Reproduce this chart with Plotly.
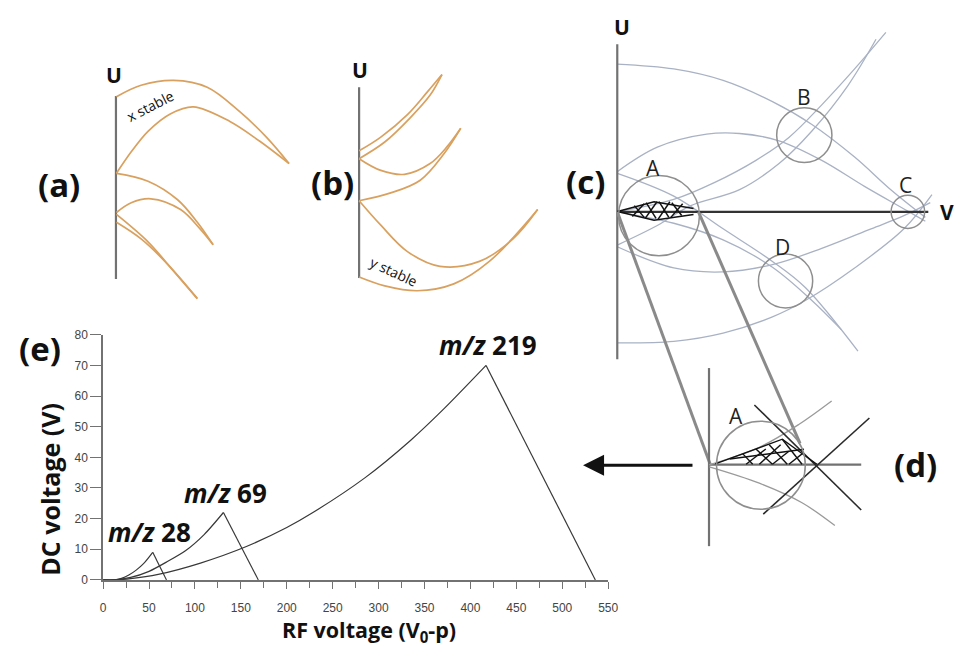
import plotly.graph_objects as go

W, H = 960, 651

# ---------------- panel (e) data ----------------
mz28_rf = [0, 12, 20, 28, 36, 44, 54, 69]
mz28_dc = [0, 0, 0.5, 1.6, 3.2, 5.3, 9.0, 0]
mz69_rf = [0, 12, 30, 50, 70, 90, 110, 131, 169]
mz69_dc = [0, 0, 0.8, 2.8, 6.0, 9.6, 14.8, 22.0, 0]
mz219_rf = [0, 12, 30, 60, 106, 156, 200, 228, 285, 335, 371, 417, 536]
mz219_dc = [0, 0, 0.4, 1.8, 5.5, 10.9, 17.1, 21.9, 33.3, 45.6, 55.8, 70.0, 0]
x_ticks = list(range(0, 551, 50))
x_minor = list(range(25, 551, 50))
y_ticks = list(range(0, 81, 10))
peak_labels = ["<i>m/z</i> 28", "<i>m/z</i> 69", "<i>m/z</i> 219"]
peak_rf = [51, 133, 419]
peak_dc = [9.0, 22.0, 70.0]

# ---------------- schematic panels (drawing frame in page pixels) ----------------
a_axis = [(114.5, 91), (114.5, 278)]
a_curves = [
    [(115, 91.7), (140, 80), (173, 75), (207, 82), (240, 107), (267, 133), (290, 160)],
    [(115, 170), (130, 148), (147, 127), (170, 109), (193, 102), (230, 117), (260, 137), (290, 160)],
    [(115, 170), (147, 178), (177, 197), (197, 220), (213, 243)],
    [(115, 210), (130, 200), (150, 196), (180, 207), (200, 227), (213, 243)],
    [(115, 212), (147, 240), (173, 270), (197, 298)],
    [(115, 220), (140, 237), (167, 263), (197, 298)],
]
b_axis = [(361, 82), (361, 277)]
b_curves = [
    [(361, 147), (383, 133), (410, 110), (430, 87), (445, 69)],
    [(361, 155), (387, 138), (413, 113), (433, 90), (445, 69)],
    [(361, 155), (383, 167), (407, 171), (433, 160), (450, 143), (464, 124)],
    [(361, 198), (393, 190), (423, 177), (447, 150), (464, 124)],
    [(361, 198), (383, 223), (410, 250), (443, 265), (483, 260), (517, 237), (542, 207)],
    [(361, 276), (387, 285), (420, 290), (457, 283), (493, 260), (542, 207)],
]
c_axes = [[(622.7, 38), (622.7, 360)], [(622.7, 209.3), (938, 209.3)]]
c_curves = [
    [(622.7, 58.3), (680, 63.3), (730, 75), (780, 96.7), (820, 120), (863.3, 153.3), (900, 186.7), (935, 215)],
    [(622.7, 168.3), (663.3, 143.3), (713.3, 130), (746.7, 129.3), (786.7, 136.7), (830, 156.7), (873.3, 183.3), (916.7, 208.3), (935, 219)],
    [(622.7, 209.3), (680, 196.7), (720, 180), (763.3, 156.7), (796.7, 133.3), (830, 100), (863.3, 63.3), (895, 26)],
    [(622.7, 243.3), (663.3, 223.3), (696.7, 203.3), (746.7, 186.7), (786.7, 160), (820, 126.7), (856.7, 80), (885, 33)],
    [(622.7, 170), (680, 193.3), (730, 226.7), (780, 260), (813.3, 286.7), (866.7, 351.7)],
    [(622.7, 209.3), (680, 221), (730, 238), (780, 266), (820, 300), (850, 330)],
    [(622.7, 245), (680, 266.7), (730, 270.7), (780, 263.3), (830, 246.7), (880, 226.7), (913.3, 213.3), (940, 200)],
    [(622.7, 343.3), (680, 341.7), (730, 333.3), (780, 316.7), (813.3, 300), (863.3, 266.7), (913.3, 226.7), (941.7, 191.7)],
]
c_hatch = [
    [(623, 209), (660, 199), (700, 206)],
    [(623, 209), (660, 218), (700, 212)],
    [(640, 203), (650, 215)], [(652, 200), (662, 216)], [(665, 199), (675, 215)], [(678, 200), (688, 213)],
    [(638, 214), (650, 201)], [(651, 216), (663, 199)], [(664, 217), (676, 199)], [(677, 215), (689, 201)],
]
projection = [[(622.7, 209.3), (716.7, 466.7)], [(705, 209.3), (808, 446)]]
d_axes = [[(715.7, 369), (715.7, 551)], [(715.7, 467.7), (870, 467.7)]]
d_black = [[(761.7, 406.7), (870, 514)], [(770.7, 518.3), (878.3, 420)]]
d_curves = [
    [(715.7, 468), (766.7, 450), (806.7, 426.7), (840, 402.7)],
    [(716, 470), (766.7, 486.7), (810, 506.7), (843.3, 530)],
]
d_hatch = [
    [(722, 467), (790, 441.7), (825, 467.3)],
    [(750, 456.7), (760, 467.3)], [(763.3, 451.7), (780, 467.3)], [(776.7, 447.3), (795, 467.3)], [(790, 441.7), (810, 467.3)],
    [(753.3, 467.3), (773.3, 451.7)], [(766.7, 467.3), (788.3, 447.3)], [(780, 467.3), (796.7, 454)], [(796.7, 467.3), (810, 456.7)],
    [(736.7, 462), (812, 452)],
]
circle_names = ["A", "B", "C", "D", "A"]
circle_cx = [665, 812.3, 917.3, 793.3, 768.3]
circle_cy = [213.3, 131, 209.3, 280, 468.3]
circle_r = [41, 28, 17, 27.5, 45]
circle_label_xy = [(659, 165), (811.7, 92), (915, 182), (790, 245), (743.3, 418.3)]
panel_labels = ["(a)", "(b)", "(c)", "(d)", "(e)"]
panel_label_xy = [(57, 181), (334, 179), (590, 178), (925, 468), (38, 349)]
arrow_tail = (702, 468.3)
arrow_head = (588, 468.3)

ORANGE = "#d9a15f"
BLUEGREY = "#a9b2c4"
GREY = "#727272"
CIRCLE = "#8e8e8e"
BOLD = "Open Sans"

fig = go.Figure()

# panel (e) traces: smooth rising branch up to the peak, straight falling branch after it
for xs, ys in [(mz28_rf, mz28_dc), (mz69_rf, mz69_dc), (mz219_rf, mz219_dc)]:
    k = ys.index(max(ys))
    fig.add_trace(go.Scatter(x=xs[:k + 1], y=ys[:k + 1], mode="lines",
                             line=dict(color="#383838", width=1.2, shape="spline", smoothing=0.8),
                             xaxis="x", yaxis="y", showlegend=False, hoverinfo="skip"))
    fig.add_trace(go.Scatter(x=xs[k:], y=ys[k:], mode="lines", line=dict(color="#383838", width=1.2),
                             xaxis="x", yaxis="y", showlegend=False, hoverinfo="skip"))


def poly(pts, color, width, shape="linear"):
    fig.add_trace(go.Scatter(x=[p[0] for p in pts], y=[p[1] for p in pts], mode="lines",
                             line=dict(color=color, width=width, shape=shape),
                             xaxis="x2", yaxis="y2", showlegend=False, hoverinfo="skip"))


poly(a_axis, GREY, 2.2)
for c in a_curves:
    poly(c, ORANGE, 1.7, "spline")
poly(b_axis, GREY, 2.2)
for c in b_curves:
    poly(c, ORANGE, 1.7, "spline")
for c in c_curves:
    poly(c, BLUEGREY, 1.3, "spline")
poly(c_axes[0], GREY, 2.2)
poly(c_axes[1], "#333333", 2.2)
for h in c_hatch:
    poly(h, "#111111", 1.5)
for p in projection:
    poly(p, "#8a8a8a", 3)
poly(d_axes[0], GREY, 2.2)
poly(d_axes[1], GREY, 2.2)
for c in d_curves:
    poly(c, "#9a9a9a", 1.3, "spline")
for c in d_black:
    poly(c, "#2a2a2a", 1.6)
for h in d_hatch:
    poly(h, "#111111", 1.4)

shapes = []
for cx, cy, r in zip(circle_cx, circle_cy, circle_r):
    shapes.append(dict(type="circle", xref="x2", yref="y2", x0=cx - r, x1=cx + r, y0=cy - r, y1=cy + r,
                       line=dict(color=CIRCLE, width=1.5)))

ann = []


def text(x, y, t, size, bold=False, color="#111111", angle=0, family=BOLD):
    t = f"<b>{t}</b>" if bold else t
    ann.append(dict(x=x, y=y, xref="x2", yref="y2", text=t, showarrow=False, textangle=angle,
                    font=dict(family=family, size=size, color=color), xanchor="center", yanchor="middle"))


for lab, (x, y) in zip(panel_labels, panel_label_xy):
    text(x, y, lab, 33, bold=True)
text(113, 69, "U", 21, bold=True)
text(362, 64, "U", 21, bold=True)
text(627, 20, "U", 21, bold=True)
text(957, 210, "V", 21, bold=True)
text(150, 101, "x stable", 14, angle=-27)
text(396, 270, "y stable", 14, angle=25)
for name, (x, y) in zip(circle_names, circle_label_xy):
    text(x, y, name, 21, color="#222222")

ann.append(dict(x=arrow_head[0], y=arrow_head[1], ax=arrow_tail[0], ay=arrow_tail[1], xref="x2", yref="y2",
                axref="x2", ayref="y2", showarrow=True, arrowhead=2, arrowsize=1.4, arrowwidth=3,
                arrowcolor="#111111", text=" "))

# panel (e) labels
for lab, px, py in zip(peak_labels, peak_rf, peak_dc):
    ann.append(dict(x=px, y=py, xref="x", yref="y", text=f"<b>{lab}</b>", showarrow=False, yshift=20,
                    font=dict(family=BOLD, size=26, color="#111111"), xanchor="center", yanchor="middle"))
text(48, 493, "DC voltage (V)", 25, bold=True, angle=-90)
text(371, 638, "RF voltage (V<sub>0</sub>-p)", 21.5, bold=True)

axis_font = dict(family="Liberation Sans", size=12, color="#444444")
fig.update_layout(
    width=W, height=H, margin=dict(l=0, r=0, t=0, b=0),
    paper_bgcolor="white", plot_bgcolor="rgba(0,0,0,0)",
    xaxis=dict(domain=[101.5 / W, 613.5 / W], range=[0, 550], showline=True, linecolor=GREY, linewidth=1.5,
               ticks="outside", ticklen=7, tickwidth=1.3, tickcolor=GREY, tickvals=x_ticks, tickfont=axis_font,
               minor=dict(tickvals=x_minor, ticks="outside", ticklen=6, tickwidth=1.3, tickcolor=GREY),
               showgrid=False, zeroline=False, anchor="y", fixedrange=True, ticklabelstandoff=9),
    yaxis=dict(domain=[1 - 585.5 / H, 1 - 335 / H], range=[0, 80], showline=True, linecolor=GREY, linewidth=1.5,
               ticks="outside", ticklen=11, tickwidth=1.3, tickcolor=GREY, tickvals=y_ticks, tickfont=axis_font,
               showgrid=False, zeroline=False, anchor="x", fixedrange=True),
    xaxis2=dict(domain=[0, 1], range=[0, W], visible=False, anchor="y2", fixedrange=True),
    yaxis2=dict(domain=[0, 1], range=[H, 0], visible=False, anchor="x2", fixedrange=True),
    shapes=shapes, annotations=ann,
)
fig.write_html("out.html", config={"displayModeBar": False},
               post_script="document.body.style.margin='0';document.body.style.padding='0';"
                           "document.body.style.overflow='hidden';")
